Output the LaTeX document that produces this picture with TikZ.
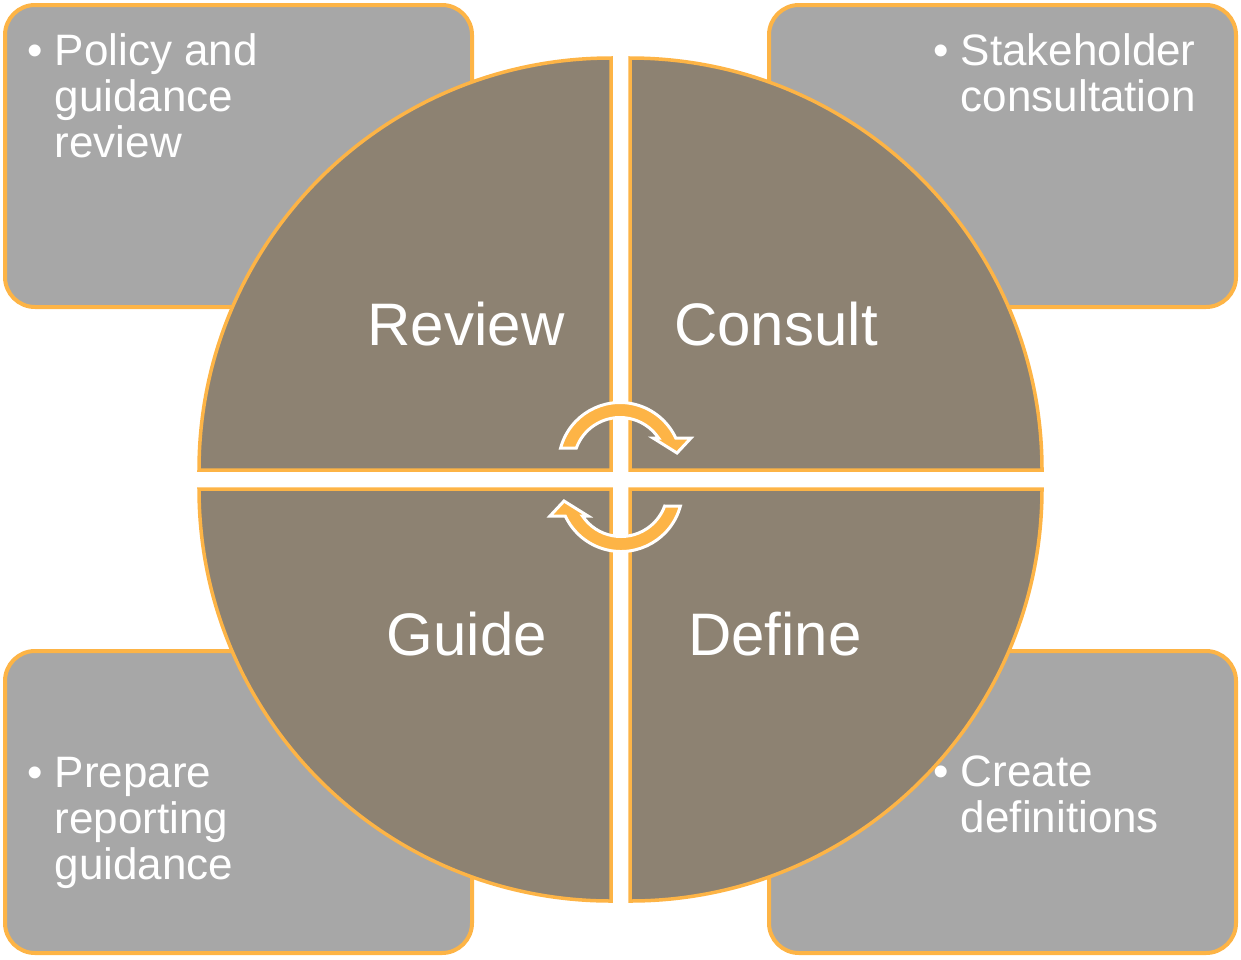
\documentclass[tikz,border=0pt]{standalone}
\usepackage{fontspec}
\setmainfont{Liberation Sans}
\usepackage{xcolor}
\definecolor{segorange}{RGB}{253,180,70}
\definecolor{segbrown}{RGB}{141,130,114}
\definecolor{boxgray}{RGB}{167,167,167}
\tikzset{
    quad/.style={
        draw=segorange,
        fill=segbrown,
        line width=3.5pt
    },
    infobox/.style={
        draw=segorange,
        fill=boxgray,
        line width=4pt,
        rounded corners=30pt
    },
    biglabel/.style={
        text=white,
        inner sep=0pt,
        anchor=base,
        font=\fontsize{60}{69}\selectfont
    },
    itemtext/.style={
        text=white,
        inner sep=0pt,
        anchor=base west,
        font=\fontsize{44}{46}\selectfont
    },
    cycarrow/.style={
        fill=segorange,
        draw=white,
        line width=3pt,
        line join=miter
    }
}
\newcommand{\itemlines}[1]{\textbullet\ \parbox[t]{300pt}{\raggedright #1}}

\begin{document}
\begin{tikzpicture}[x=1pt, y=-1pt]
  \useasboundingbox (0,0) rectangle (1241,959);

  % Side boxes
  \draw[infobox] (5,5) rectangle (472,307);
  \draw[infobox] (769,5) rectangle (1236,307);
  \draw[infobox] (5,651) rectangle (472,953);
  \draw[infobox] (769,651) rectangle (1236,953);

  % Box texts
  \node[itemtext] (policy) at (27,65) {\itemlines{Policy and\\guidance\\review}};
  \node[itemtext] (stake) at (933,65) {\itemlines{Stakeholder\\consultation}};
  \node[itemtext] (prepare) at (27,787) {\itemlines{Prepare\\reporting\\guidance}};
  \node[itemtext] (create) at (933,786) {\itemlines{Create\\definitions}};

  % Quadrants
  \draw[quad] (611,470) -- ++(-412,0) arc[start angle=180, end angle=270, radius=412] -- cycle;
  \draw[quad] (630,470) -- ++(0,-412) arc[start angle=270, end angle=360, radius=412] -- cycle;
  \draw[quad] (630,489) -- ++(412,0) arc[start angle=0, end angle=90, radius=412] -- cycle;
  \draw[quad] (611,489) -- ++(0,412) arc[start angle=90, end angle=180, radius=412] -- cycle;

  % Quadrant labels
  \node[biglabel] (review) at (466,345) {Review};
  \node[biglabel] (consult) at (776,345) {Consult};
  \node[biglabel] (guide) at (467,655) {Guide};
  \node[biglabel] (define) at (775,655) {Define};

  % Cycle arrows
  \begin{scope}[shift={(620,464)}, yscale=-1]
    \draw[cycarrow] (-43.66,16) -- (-59.38,16) arc[start angle=164.92, end angle=25.01, radius=61.5]
      -- (71,26) -- (57,11) -- (33,26) -- (38.55,26)
      arc[start angle=34.0, end angle=159.87, radius=46.5] -- cycle;
  \end{scope}
  \begin{scope}[shift={(621,490)}, yscale=-1, rotate=180]
    \draw[cycarrow] (-43.66,16) -- (-59.38,16) arc[start angle=164.92, end angle=25.01, radius=61.5]
      -- (71,26) -- (57,11) -- (33,26) -- (38.55,26)
      arc[start angle=34.0, end angle=159.87, radius=46.5] -- cycle;
  \end{scope}
\end{tikzpicture}
\end{document}
